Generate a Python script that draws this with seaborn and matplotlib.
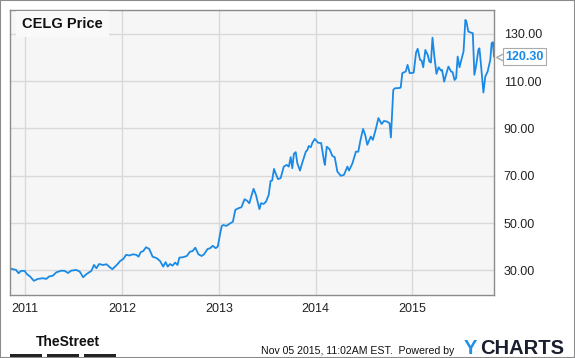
import pandas as pd
import seaborn as sns
import matplotlib.pyplot as plt
from matplotlib.patches import Rectangle

# CELG closing prices
dates = [
    '2010-11-05', '2010-11-16', '2010-11-28', '2010-12-07', '2010-12-17', '2010-12-30',
    '2011-01-08', '2011-01-20', '2011-02-03', '2011-02-18', '2011-03-09', '2011-03-22',
    '2011-04-01', '2011-04-16', '2011-04-29', '2011-05-18', '2011-05-30', '2011-06-12',
    '2011-06-24', '2011-07-13', '2011-07-26', '2011-08-08', '2011-08-20', '2011-09-08',
    '2011-09-18', '2011-09-27', '2011-10-07', '2011-10-22', '2011-11-04', '2011-11-14',
    '2011-11-26', '2011-12-13', '2011-12-26', '2012-01-07', '2012-01-17', '2012-01-30',
    '2012-02-11', '2012-02-24', '2012-03-04', '2012-03-12', '2012-03-22', '2012-04-01',
    '2012-04-13', '2012-04-26', '2012-05-11', '2012-05-24', '2012-06-05', '2012-06-14',
    '2012-06-22', '2012-07-01', '2012-07-10', '2012-07-20', '2012-07-29', '2012-08-05',
    '2012-08-20', '2012-09-02', '2012-09-14', '2012-09-24', '2012-10-04', '2012-10-16',
    '2012-10-28', '2012-11-06', '2012-11-19', '2012-11-29', '2012-12-09', '2012-12-20',
    '2012-12-28', '2013-01-06', '2013-01-12', '2013-01-18', '2013-01-29', '2013-02-10',
    '2013-02-23', '2013-03-04', '2013-03-16', '2013-03-27', '2013-04-08', '2013-04-17',
    '2013-04-26', '2013-05-03', '2013-05-12', '2013-05-21', '2013-06-03', '2013-06-09',
    '2013-06-19', '2013-06-28', '2013-07-08', '2013-07-15', '2013-07-21', '2013-07-28',
    '2013-08-03', '2013-08-12', '2013-08-22', '2013-09-03', '2013-09-14', '2013-09-22',
    '2013-09-29', '2013-10-05', '2013-10-11', '2013-10-18', '2013-10-24', '2013-11-03',
    '2013-11-13', '2013-11-25', '2013-12-01', '2013-12-06', '2013-12-14', '2013-12-20',
    '2013-12-29', '2014-01-10', '2014-01-22', '2014-02-02', '2014-02-05', '2014-02-12',
    '2014-02-23', '2014-03-05', '2014-03-14', '2014-03-24', '2014-04-06', '2014-04-18',
    '2014-05-01', '2014-05-07', '2014-05-20', '2014-06-02', '2014-06-11', '2014-06-20',
    '2014-06-29', '2014-07-07', '2014-07-15', '2014-07-28', '2014-08-05', '2014-08-16',
    '2014-08-26', '2014-09-07', '2014-09-16', '2014-09-28', '2014-10-07', '2014-10-12',
    '2014-10-21', '2014-10-27', '2014-11-11', '2014-11-18', '2014-11-24', '2014-12-07',
    '2014-12-14', '2014-12-22', '2015-01-06', '2015-01-15', '2015-01-21', '2015-01-30',
    '2015-02-05', '2015-02-11', '2015-02-19', '2015-02-28', '2015-03-06', '2015-03-12',
    '2015-03-18', '2015-03-25', '2015-04-02', '2015-04-10', '2015-04-19', '2015-04-23',
    '2015-05-01', '2015-05-08', '2015-05-17', '2015-05-27', '2015-06-02', '2015-06-09',
    '2015-06-15', '2015-06-21', '2015-06-28', '2015-07-04', '2015-07-13', '2015-07-20',
    '2015-07-24', '2015-07-31', '2015-08-11', '2015-08-17', '2015-08-23', '2015-08-29',
    '2015-09-07', '2015-09-11', '2015-09-17', '2015-09-26', '2015-10-03', '2015-10-12',
    '2015-10-22', '2015-10-27', '2015-11-01', '2015-11-05',
]
prices = [
    30.9, 30.5, 30.2, 28.8, 29.8, 29.8,
    28.4, 27.4, 25.6, 26.4, 26.7, 26.4,
    27.4, 27.8, 29.2, 29.9, 29.8, 28.9,
    29.9, 30.2, 29.5, 27.1, 28.4, 29.8,
    32.3, 30.9, 32.7, 32.3, 32.6, 31.6,
    30.5, 32.3, 34.0, 34.9, 36.6, 36.3,
    36.8, 36.6, 35.8, 37.7, 38.2, 39.8,
    39.1, 35.8, 35.2, 34.0, 31.6, 33.5,
    31.6, 32.7, 32.0, 33.3, 32.3, 35.4,
    35.6, 36.1, 37.9, 38.2, 39.6, 36.8,
    36.1, 36.8, 39.0, 39.4, 40.4, 39.4,
    40.1, 45.7, 48.8, 49.2, 48.8, 49.7,
    50.6, 55.6, 56.3, 56.7, 60.1, 59.5,
    58.4, 61.2, 64.5, 61.9, 55.9, 58.4,
    58.1, 59.1, 61.9, 67.8, 68.0, 72.9,
    71.1, 68.6, 69.0, 73.9, 74.6, 73.9,
    77.9, 73.2, 79.3, 80.0, 75.3, 72.2,
    76.0, 80.2, 80.9, 82.6, 82.1, 84.0,
    85.6, 84.0, 83.8, 76.0, 74.6, 82.3,
    81.2, 78.4, 77.9, 71.8, 70.0, 70.4,
    73.9, 72.2, 75.3, 80.2, 80.2, 85.5,
    89.8, 87.3, 83.1, 86.6, 85.2, 89.7,
    94.4, 91.9, 93.2, 92.9, 92.2, 86.2,
    106.3, 107.0, 107.1, 107.3, 113.4, 114.1,
    116.9, 113.4, 113.6, 122.1, 123.7, 119.0,
    118.7, 115.9, 123.2, 121.1, 118.3, 117.9,
    128.4, 120.4, 113.1, 115.9, 114.5, 114.8,
    109.8, 112.7, 116.2, 114.1, 113.8, 110.5,
    111.3, 120.4, 115.9, 118.7, 122.5, 135.9,
    135.2, 131.0, 130.5, 130.3, 112.7, 116.2,
    123.2, 123.9, 116.9, 105.2, 111.9, 114.1,
    119.0, 126.1, 126.5, 120.3,
]
years = [2011, 2012, 2013, 2014, 2015]
y_ticks = [30, 50, 70, 90, 110, 130]
last_price = 120.30

line_color = '#1a8ae6'

sns.set_style('whitegrid', {'axes.facecolor': '#f6f6f6', 'grid.color': '#d9d9d9',
                            'axes.edgecolor': '#8c8c8c'})
plt.rcParams['font.family'] = ['Liberation Sans', 'DejaVu Sans']

fig = plt.figure(figsize=(5.75, 3.58), dpi=100)
ax = fig.add_axes([10 / 575, 1 - 295 / 358, 484 / 575, 285 / 358])

df = pd.DataFrame({'date': pd.to_datetime(dates), 'price': prices})
sns.lineplot(data=df, x='date', y='price', ax=ax, color=line_color, linewidth=1.3)

ax.set_xlim(df['date'].min(), df['date'].max())
ax.set_ylim(19.6, 140.1)
ax.set_xticks([pd.Timestamp(f'{y}-01-01') for y in years])
ax.set_xticklabels([str(y) for y in years])
ax.set_yticks(y_ticks)
ax.set_yticklabels([f'{v:.2f}' for v in y_ticks])
ax.yaxis.tick_right()
ax.tick_params(length=0, labelsize=9, colors='#222222')
ax.tick_params(axis='y', pad=7)
ax.tick_params(axis='x', pad=5.5)
ax.set_xlabel('')
ax.set_ylabel('')
ax.grid(True, linewidth=1)
for s in ax.spines.values():
    s.set_linewidth(1)
    s.set_color('#8c8c8c')

# title box in the top-left corner
ax.text(12 / 484, 1 - 14 / 285, 'CELG Price', transform=ax.transAxes, fontsize=10.5,
        fontweight='bold', color='#111111', va='center', ha='left',
        bbox=dict(boxstyle='square,pad=0.4', facecolor='#f9f9f9', edgecolor='none'))

# last price flag
ax.plot([1.012], [last_price], marker='<', markersize=6, markerfacecolor='white',
        markeredgecolor='#aaaaaa', transform=ax.get_yaxis_transform(), clip_on=False, zorder=4)
ax.text(1.023, last_price, f'{last_price:.2f}', transform=ax.get_yaxis_transform(),
        fontsize=9, fontweight='bold', color=line_color, va='center', ha='left', zorder=5,
        bbox=dict(boxstyle='square,pad=0.2', facecolor='white', edgecolor='#aaaaaa', lw=0.8))

# footer
fig.text(36 / 575, 1 - 341.5 / 358, 'TheStreet', fontsize=10, fontweight='bold',
         color='#111111', va='center', ha='left')
for x0 in [10, 47, 84]:
    fig.add_artist(Rectangle((x0 / 575, 0.5 / 358), 32 / 575, 3.5 / 358,
                             transform=fig.transFigure, facecolor='#222222', edgecolor='none'))
fig.text(261 / 575, 1 - 350.5 / 358, 'Nov 05 2015, 11:02AM EST.  Powered by', fontsize=7.6,
         color='#111111', va='center', ha='left')
fig.text(464 / 575, 1 - 348 / 358, 'Y', fontsize=14.5, fontweight='bold', color='#1e90e6',
         va='center', ha='left')
fig.text(480 / 575, 1 - 348 / 358, 'CHARTS', fontsize=14.5, fontweight='bold',
         color='#1a1f2e', va='center', ha='left')

# outer frame
fig.add_artist(Rectangle((0, 0), 1, 1, transform=fig.transFigure, fill=False,
                         edgecolor='#8c8c8c', lw=1.5))

fig.savefig('out.png', dpi=100)
